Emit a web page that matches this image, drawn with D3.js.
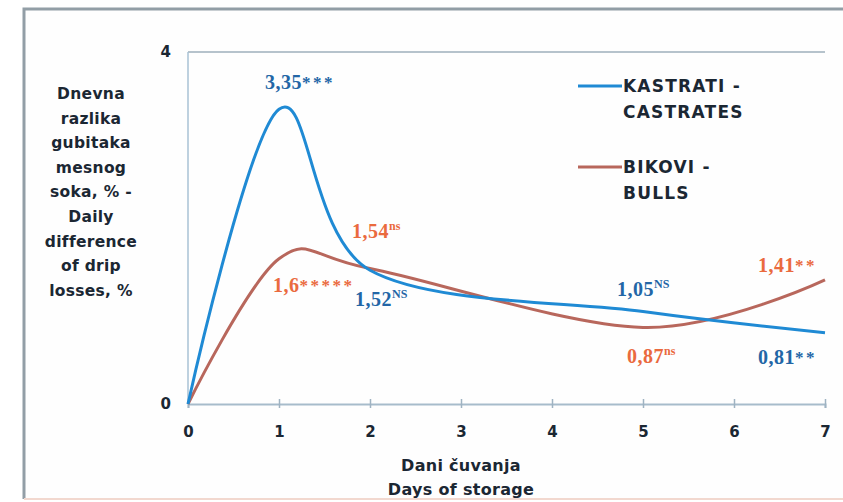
<!DOCTYPE html>
<html>
<head>
<meta charset="utf-8">
<script src="https://cdn.jsdelivr.net/npm/d3@7"></script>
<style>
  html, body { margin: 0; padding: 0; background: #ffffff; }
  svg { display: block; }
</style>
</head>
<body>
<div id="chart"></div>
<script>

/** Days of storage at which drip loss was measured **/
var days = [0, 1, 2, 5, 7];

/** Daily difference of drip losses, % **/
var castrateValues = [0, 3.35, 1.52, 1.05, 0.81];
var bullValues = [0, 1.65, 1.54, 0.87, 1.41];

/** Value labels with significance marks (index matches days) **/
var castrateLabels = ["", "3,35", "1,52", "1,05", "0,81"];
var castrateMarks = ["", "***", "NS", "NS", "**"];
var bullLabels = ["", "1,6", "1,54", "0,87", "1,41"];
var bullMarks = ["", "*****", "ns", "ns", "**"];

/** Axis ticks **/
var xTicks = [0, 1, 2, 3, 4, 5, 6, 7];
var yTicks = [0, 4];

var seriesNames = [["KASTRATI -", "CASTRATES"], ["BIKOVI -", "BULLS"]];
var yTitle = ["Dnevna", "razlika", "gubitaka", "mesnog", "soka, % -", "Daily", "difference", "of drip", "losses, %"];
var xTitle = ["Dani čuvanja", "Days of storage"];

var W = 843, H = 502;
var blue = "#1f8ad4", brown = "#b8675c";
var blueText = "#2366a6", orangeText = "#ea6a3e", darkText = "#1b2733";
var sans = "'DejaVu Sans', sans-serif", serif = "'Liberation Serif', 'Times New Roman', serif";

var x = d3.scaleLinear().domain([0, 7]).range([188, 825]);
var y = d3.scaleLinear().domain([0, 4]).range([404, 52]);

var svg = d3.select("#chart").append("svg")
    .attr("width", W)
    .attr("height", H);

// frame: grey top and left edge, faint bottom edge
svg.append("rect")
    .attr("x", 24).attr("y", 9)
    .attr("width", W - 24).attr("height", 490)
    .attr("fill", "#fefefe");
svg.append("path")
    .attr("d", "M24,499 V9 H" + W)
    .attr("fill", "none")
    .attr("stroke", "#929ea6")
    .attr("stroke-width", 3);
svg.append("line")
    .attr("x1", 24).attr("x2", W)
    .attr("y1", 499).attr("y2", 499)
    .attr("stroke", "#f2d8cf")
    .attr("stroke-width", 2);

// top gridline at 4
svg.append("line")
    .attr("x1", x(0)).attr("x2", x(7))
    .attr("y1", y(4)).attr("y2", y(4))
    .attr("stroke", "#b6c3cc")
    .attr("stroke-width", 2);

// y axis line
svg.append("line")
    .attr("x1", x(0)).attr("x2", x(0))
    .attr("y1", y(0)).attr("y2", y(4))
    .attr("stroke", "#a9c2d4")
    .attr("stroke-width", 1.5);

// x axis
var xAxis = svg.append("g")
    .attr("transform", "translate(0," + y(0) + ")")
    .call(d3.axisBottom(x).tickValues(xTicks).tickSize(4).tickPadding(18).tickFormat(d3.format("d")));
xAxis.select(".domain").attr("stroke", "#a7bccb").attr("stroke-width", 2);
xAxis.selectAll(".tick line").attr("stroke", "#9fb3c2").attr("stroke-width", 1.5).attr("y1", -5);
xAxis.selectAll(".tick text")
    .attr("fill", darkText)
    .style("font-family", sans)
    .style("font-weight", "bold")
    .style("font-size", "15px");

// y axis labels
var yAxis = svg.append("g")
    .attr("transform", "translate(" + x(0) + ",0)")
    .call(d3.axisLeft(y).tickValues(yTicks).tickSize(0).tickPadding(17).tickFormat(d3.format("d")));
yAxis.select(".domain").remove();
yAxis.selectAll(".tick text")
    .attr("fill", darkText)
    .style("font-family", sans)
    .style("font-weight", "bold")
    .style("font-size", "15px");

// lines
var line = d3.line()
    .x(function (d) { return x(d[0]); })
    .y(function (d) { return y(d[1]); })
    .curve(d3.curveCardinal.tension(0));

var series = [
    { values: bullValues, color: brown },
    { values: castrateValues, color: blue }
];

svg.selectAll(".series")
    .data(series)
    .enter().append("path")
    .attr("class", "series")
    .attr("fill", "none")
    .attr("stroke", function (d) { return d.color; })
    .attr("stroke-width", 3)
    .attr("d", function (d) {
        return line(days.map(function (day, i) { return [day, d.values[i]]; }));
    });

// value labels, offsets in px from the data point
var castrateOffsets = [null, [-14, -20], [-15, 36], [-26, -16], [-67, 31]];
var bullOffsets = [null, [-6, 33], [-18, -30], [-16, 36], [-67, -8]];

function drawLabels(values, labels, marks, offsets, color) {
    days.forEach(function (day, i) {
        if (!labels[i]) return;
        var t = svg.append("text")
            .attr("x", x(day) + offsets[i][0])
            .attr("y", y(values[i]) + offsets[i][1])
            .attr("fill", color)
            .style("font-family", serif)
            .style("font-weight", "bold")
            .style("font-size", "20px")
            .style("letter-spacing", "0.5px");
        t.append("tspan").text(labels[i]);
        var star = marks[i].indexOf("*") === 0;
        t.append("tspan")
            .attr("dy", star ? -1 : -8)
            .style("font-size", star ? "17px" : "12px")
            .style("letter-spacing", star ? "2.5px" : "0px")
            .text(marks[i]);
    });
}

drawLabels(castrateValues, castrateLabels, castrateMarks, castrateOffsets, blueText);
drawLabels(bullValues, bullLabels, bullMarks, bullOffsets, orangeText);

// legend
var legend = svg.append("g").attr("transform", "translate(578,86)");
[blue, brown].forEach(function (c, i) {
    var g = legend.append("g").attr("transform", "translate(0," + (i * 81) + ")");
    g.append("line")
        .attr("x1", 0).attr("x2", 44)
        .attr("y1", 0).attr("y2", 0)
        .attr("stroke", c)
        .attr("stroke-width", 3);
    g.append("text")
        .attr("fill", darkText)
        .style("font-family", sans)
        .style("font-weight", "bold")
        .style("font-size", "17px")
        .style("letter-spacing", "1.2px")
        .selectAll("tspan")
        .data(seriesNames[i])
        .enter().append("tspan")
        .attr("x", 45)
        .attr("y", function (d, j) { return 6 + j * 26; })
        .text(function (d) { return d; });
});

// y title
svg.append("text")
    .attr("fill", darkText)
    .attr("text-anchor", "middle")
    .style("font-family", sans)
    .style("font-weight", "bold")
    .style("font-size", "15.5px")
    .style("letter-spacing", "0.3px")
    .selectAll("tspan")
    .data(yTitle)
    .enter().append("tspan")
    .attr("x", 91)
    .attr("y", function (d, i) { return 99 + i * 24.6; })
    .text(function (d) { return d; });

// x title
svg.append("text")
    .attr("fill", darkText)
    .attr("text-anchor", "middle")
    .style("font-family", sans)
    .style("font-weight", "bold")
    .style("font-size", "16px")
    .style("letter-spacing", "0.3px")
    .selectAll("tspan")
    .data(xTitle)
    .enter().append("tspan")
    .attr("x", 461)
    .attr("y", function (d, i) { return 471 + i * 24; })
    .text(function (d) { return d; });

</script>
</body>
</html>
